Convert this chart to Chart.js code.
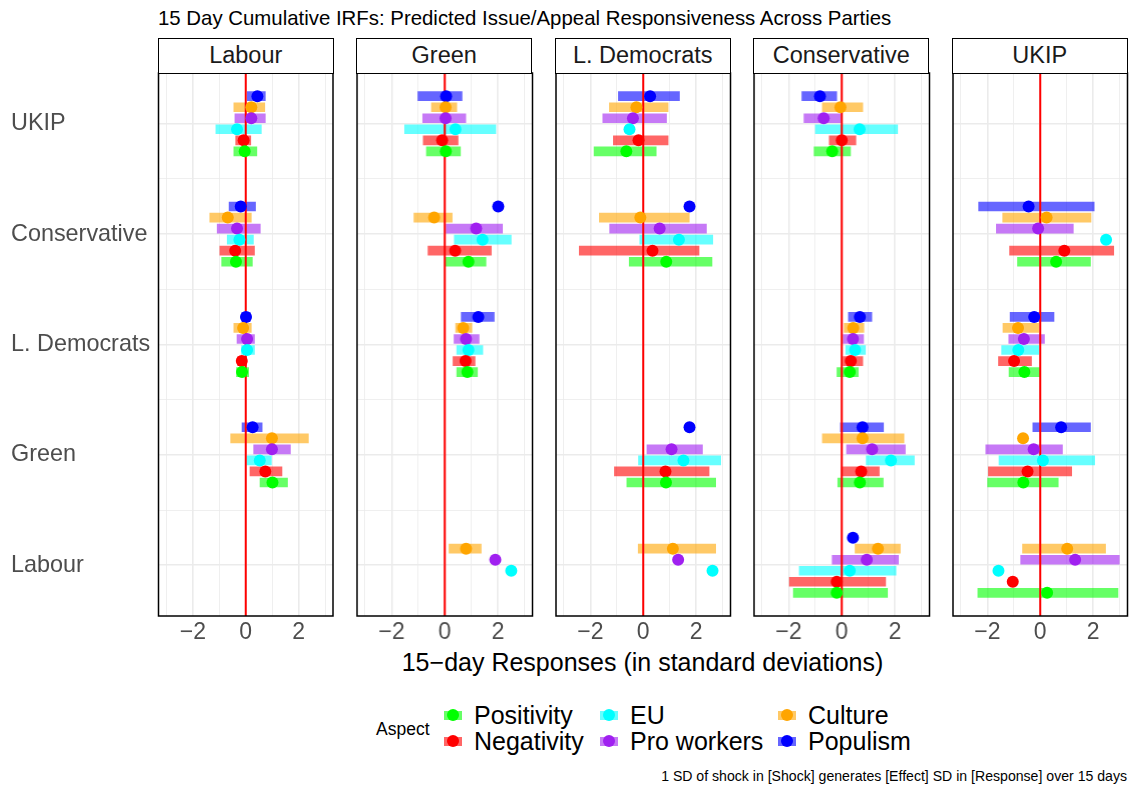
<!DOCTYPE html>
<html>
<head>
<meta charset="utf-8">
<script src="https://cdn.jsdelivr.net/npm/chart.js@4.4.0/dist/chart.umd.min.js"></script>
<style>
  body { margin: 0; background: #fff; font-family: "Liberation Sans", Arial, sans-serif; }
  #page { position: relative; width: 1129px; height: 789px; overflow: hidden; }
  .title { position: absolute; left: 158px; top: 6px; font-size: 20.4px; line-height: 24px; color: #000; white-space: nowrap; }
  .strip { position: absolute; top: 38px; height: 36px; box-sizing: border-box; border: 1.5px solid #000;
           background: #fff; text-align: center; font-size: 23.5px; line-height: 33px; color: #1a1a1a; }
  .facet { position: absolute; top: 71px; height: 587px; }
  .xtitle { position: absolute; left: 0; width: 1129px; top: 647px; padding-left: 156px; box-sizing: border-box;
            text-align: center; font-size: 25px; line-height: 30px; color: #000; }
  .legend-title { position: absolute; left: 376px; top: 719px; font-size: 17.5px; line-height: 20px; }
  .legend-item { position: absolute; height: 26px; white-space: nowrap; font-size: 25px; line-height: 26px; }
  .key { position: absolute; left: 0; top: 1px; width: 24px; height: 24px; }
  .key .bar { position: absolute; left: 3px; top: 7.5px; width: 18px; height: 9px; }
  .key .dot { position: absolute; left: 6px; top: 6px; width: 12px; height: 12px; border-radius: 50%; }
  .legend-item span { position: absolute; left: 33px; top: 0; }
  .caption { position: absolute; right: 2px; top: 768px; font-size: 14.1px; line-height: 16px; white-space: nowrap; }
</style>
</head>
<body>
<div id="page">
  <div class="title">15 Day Cumulative IRFs: Predicted Issue/Appeal Responsiveness Across Parties</div>
  <div class="xtitle">15&minus;day Responses (in standard deviations)</div>
  <div class="legend-title">Aspect</div>
  <div class="caption">1 SD of shock in [Shock] generates [Effect] SD in [Response] over 15 days</div>
</div>
<script>
// Panels (responding party) and rows (shocking party, top to bottom)
const parties = ['Labour', 'Green', 'L. Democrats', 'Conservative', 'UKIP'];
const shockRows = ['UKIP', 'Conservative', 'L. Democrats', 'Green', 'Labour'];
const aspects = ['Positivity', 'Negativity', 'EU', 'Pro workers', 'Culture', 'Populism'];
const xTicks = [-3, -2, -1, 0, 1, 2, 3];
const yTicks = [1, 1.5, 2, 2.5, 3, 3.5, 4, 4.5, 5];

// Columns: Positivity, Negativity, EU, Pro workers, Culture, Populism
const N = [null, null, null, null, null, null];

// --- Labour
const labourEst = [
  [-0.04, -0.08, -0.33, 0.21, 0.21, 0.44],
  [-0.37, -0.40, -0.24, -0.33, -0.68, -0.19],
  [-0.14, -0.15, 0.05, 0.05, -0.10, 0.01],
  [1.01, 0.74, 0.53, 0.99, 0.99, 0.26],
  N
];
const labourLo = [
  [-0.45, -0.38, -1.13, -0.41, -0.45, 0.06],
  [-0.91, -0.98, -0.70, -1.08, -1.36, -0.63],
  [-0.35, -0.30, -0.16, -0.33, -0.45, -0.15],
  [0.54, 0.16, 0.04, 0.30, -0.57, -0.14],
  N
];
const labourHi = [
  [0.42, 0.19, 0.59, 0.74, 0.72, 0.74],
  [0.25, 0.33, 0.29, 0.55, 0.21, 0.37],
  [0.11, 0.02, 0.33, 0.33, 0.21, 0.17],
  [1.58, 1.37, 0.97, 1.69, 2.37, 0.62],
  N
];

// --- Green
const greenEst = [
  [0.04, -0.10, 0.40, 0.03, 0.03, 0.05],
  [0.89, 0.39, 1.42, 1.18, -0.40, 2.01],
  [0.85, 0.78, 0.89, 0.80, 0.69, 1.26],
  N,
  [null, null, 2.50, 1.90, 0.80, null]
];
const greenLo = [
  [-0.69, -0.81, -1.51, -0.83, -0.50, -1.01],
  [0.00, -0.63, 0.36, 0.05, -1.16, null],
  [0.45, 0.31, 0.45, 0.35, 0.41, 0.62],
  N,
  [null, null, null, null, 0.16, null]
];
const greenHi = [
  [0.59, 0.50, 1.92, 0.79, 0.45, 0.65],
  [1.55, 1.75, 2.50, 2.17, 0.28, null],
  [1.23, 1.14, 1.43, 1.29, 1.02, 1.86],
  N,
  [null, null, null, null, 1.37, null]
];

// --- L. Democrats
const libdemEst = [
  [-0.64, -0.18, -0.52, -0.39, -0.26, 0.26],
  [0.87, 0.35, 1.35, 0.62, -0.11, 1.75],
  N,
  [0.86, 0.84, 1.52, 1.07, null, 1.75],
  [null, null, 2.62, 1.32, 1.12, null]
];
const libdemLo = [
  [-1.86, -1.13, null, -1.53, -1.28, -0.94],
  [-0.53, -2.42, -0.13, -1.27, -1.66, null],
  N,
  [-0.62, -1.09, -0.18, 0.14, null, null],
  [null, null, null, null, -0.19, null]
];
const libdemHi = [
  [0.49, 0.94, null, 0.88, 0.94, 1.37],
  [2.60, 2.11, 2.63, 2.39, 1.74, null],
  N,
  [2.74, 2.49, 2.93, 2.24, null, null],
  [null, null, null, null, 2.74, null]
];

// --- Conservative
const conEst = [
  [-0.36, 0.00, 0.67, -0.68, -0.05, -0.82],
  N,
  [0.30, 0.34, 0.50, 0.42, 0.43, 0.68],
  [0.68, 0.73, 1.85, 1.14, 0.78, 0.78],
  [-0.19, -0.19, 0.30, 0.94, 1.36, 0.42]
];
const conLo = [
  [-1.04, -0.47, -0.99, -1.42, -0.73, -1.50],
  N,
  [-0.18, 0.05, 0.15, 0.05, 0.09, 0.25],
  [-0.15, -0.01, 0.92, 0.18, -0.73, -0.05],
  [-1.82, -1.97, -1.60, -0.36, 0.50, null]
];
const conHi = [
  [0.33, 0.53, 2.10, -0.04, 0.79, -0.19],
  N,
  [0.62, 0.79, 0.89, 0.82, 0.83, 1.13],
  [1.56, 1.41, 2.73, 2.39, 2.34, 1.57],
  [1.72, 1.65, 2.04, 2.13, 2.20, null]
];

// --- UKIP
const ukipEst = [
  N,
  [0.60, 0.91, 2.49, -0.08, 0.24, -0.44],
  [-0.60, -0.99, -0.83, -0.62, -0.84, -0.23],
  [-0.64, -0.48, 0.10, -0.25, -0.65, 0.79],
  [0.26, -1.04, -1.58, 1.32, 1.02, null]
];
const ukipLo = [
  N,
  [-0.86, -1.16, null, -1.66, -1.42, -2.33],
  [-1.18, -1.58, -1.46, -1.19, -1.41, -1.14],
  [-1.99, -1.96, -1.56, -2.06, null, -0.28],
  [-2.36, null, null, -0.74, -0.67, null]
];
const ukipHi = [
  N,
  [1.90, 2.78, null, 1.25, 1.92, 2.04],
  [-0.01, -0.33, -0.06, 0.16, -0.06, 0.52],
  [0.68, 1.19, 2.06, 0.84, null, 1.90],
  [2.94, null, null, 2.99, 2.47, null]
];

const facetData = [
  [labourEst, labourLo, labourHi],
  [greenEst, greenLo, greenHi],
  [libdemEst, libdemLo, libdemHi],
  [conEst, conLo, conHi],
  [ukipEst, ukipLo, ukipHi]
];

// Styling
const aspectColors = ['#00FF00', '#FF0000', '#00FFFF', '#A020F0', '#FFA500', '#0000FF'];
const barColors = ['rgba(0,255,0,0.6)', 'rgba(255,0,0,0.6)', 'rgba(0,255,255,0.6)',
                   'rgba(160,32,240,0.6)', 'rgba(255,165,0,0.6)', 'rgba(0,0,255,0.6)'];
const dodge = 0.1;
const xMin = -3.3, xMax = 3.3;
const yMin = 0.54, yMax = 5.46;
const panelLeft0 = 158.5, panelStep = 198.5, panelWidth = 174.5;
const labelLeft = 11;

Chart.defaults.font.family = '"Liberation Sans", Arial, sans-serif';
Chart.defaults.animation = false;

const frame = {
  id: 'frame',
  afterDraw(chart) {
    const a = chart.chartArea, ctx = chart.ctx;
    ctx.save();
    ctx.strokeStyle = '#000';
    ctx.lineWidth = 1.5;
    ctx.strokeRect(a.left, a.top, a.right - a.left, a.bottom - a.top);
    ctx.restore();
  }
};

function noPadding(axis) {
  axis.paddingLeft = 0;
  axis.paddingRight = 0;
  axis.paddingTop = 0;
  axis.paddingBottom = 0;
}

function buildDatasets(est, lo, hi) {
  const datasets = [];
  aspects.forEach((name, a) => {
    const points = [];
    const bars = [];
    shockRows.forEach((row, r) => {
      const y = shockRows.length - r + (a - 2.5) * dodge;
      if (est[r][a] !== null) points.push({ x: est[r][a], y: y });
      if (lo[r][a] !== null) bars.push({ x: [lo[r][a], hi[r][a]], y: y });
    });
    datasets.push({
      type: 'scatter', label: name, data: points,
      backgroundColor: aspectColors[a], pointRadius: 6, pointBorderWidth: 0,
      pointHoverRadius: 6, order: 0
    });
    datasets.push({
      type: 'bar', label: name + ' interval', indexAxis: 'y', data: bars,
      backgroundColor: barColors[a], barThickness: 9, grouped: false, order: 2
    });
  });
  // vertical reference line at zero
  datasets.push({
    type: 'line', label: 'zero', data: [{ x: 0, y: yMin }, { x: 0, y: yMax }],
    borderColor: '#FF0000', borderWidth: 2, pointRadius: 0, order: 1
  });
  return datasets;
}

const page = document.getElementById('page');

parties.forEach((party, i) => {
  const first = i === 0;
  const left = panelLeft0 + i * panelStep;

  const strip = document.createElement('div');
  strip.className = 'strip';
  strip.style.left = (left - 0.75) + 'px';
  strip.style.width = (panelWidth + 1.5) + 'px';
  strip.textContent = party;

  const box = document.createElement('div');
  box.className = 'facet';
  const boxLeft = first ? labelLeft : left - 2;
  box.style.left = boxLeft + 'px';
  box.style.width = (left + panelWidth + 2 - boxLeft) + 'px';
  const canvas = document.createElement('canvas');
  box.appendChild(canvas);
  page.appendChild(box);
  page.appendChild(strip);

  const [est, lo, hi] = facetData[i];

  new Chart(canvas, {
    type: 'scatter',
    data: { datasets: buildDatasets(est, lo, hi) },
    options: {
      responsive: true,
      maintainAspectRatio: false,
      layout: { autoPadding: false, padding: { top: 2, right: 2, left: first ? 0 : 2, bottom: 0 } },
      plugins: { legend: { display: false }, tooltip: { enabled: false } },
      scales: {
        x: {
          type: 'linear', min: xMin, max: xMax, offset: false,
          afterBuildTicks: axis => { axis.ticks = xTicks.map(v => ({ value: v })); },
          afterFit: axis => { axis.height = 42; noPadding(axis); },
          border: { display: false },
          grid: {
            color: '#EBEBEB', drawTicks: false, offset: false,
            lineWidth: ctx => (ctx.tick && ctx.tick.value % 2 === 0 ? 1.6 : 0.8)
          },
          ticks: {
            padding: 3, color: '#4D4D4D', font: { size: 23 }, maxRotation: 0, autoSkip: false,
            callback: v => (v % 2 !== 0 ? '' : (v < 0 ? '\u2212' + Math.abs(v) : String(v)))
          }
        },
        y: {
          type: 'linear', min: yMin, max: yMax, offset: false,
          afterBuildTicks: axis => { axis.ticks = yTicks.map(v => ({ value: v })); },
          afterFit: axis => { axis.width = first ? left - labelLeft : 0; noPadding(axis); },
          border: { display: false },
          grid: {
            color: '#EBEBEB', drawTicks: false, offset: false,
            lineWidth: ctx => (ctx.tick && Number.isInteger(ctx.tick.value) ? 1.6 : 0.8)
          },
          ticks: {
            display: first, crossAlign: 'far', color: '#4D4D4D', font: { size: 23.4 }, autoSkip: false,
            callback: v => (Number.isInteger(v) ? shockRows[shockRows.length - v] : '')
          }
        }
      }
    },
    plugins: [frame]
  });
});

// Legend (two rows, three columns)
const legendCols = [
  [0, 1],
  [2, 3],
  [4, 5]
];
const colX = [441, 597, 775];
const rowY = [702, 728];
legendCols.forEach((col, c) => {
  col.forEach((a, r) => {
    const item = document.createElement('div');
    item.className = 'legend-item';
    item.style.left = colX[c] + 'px';
    item.style.top = rowY[r] + 'px';
    item.innerHTML = '<div class="key"><div class="bar" style="background:' + barColors[a] +
      '"></div><div class="dot" style="background:' + aspectColors[a] + '"></div></div><span>' +
      aspects[a] + '</span>';
    page.appendChild(item);
  });
});
</script>
</body>
</html>
